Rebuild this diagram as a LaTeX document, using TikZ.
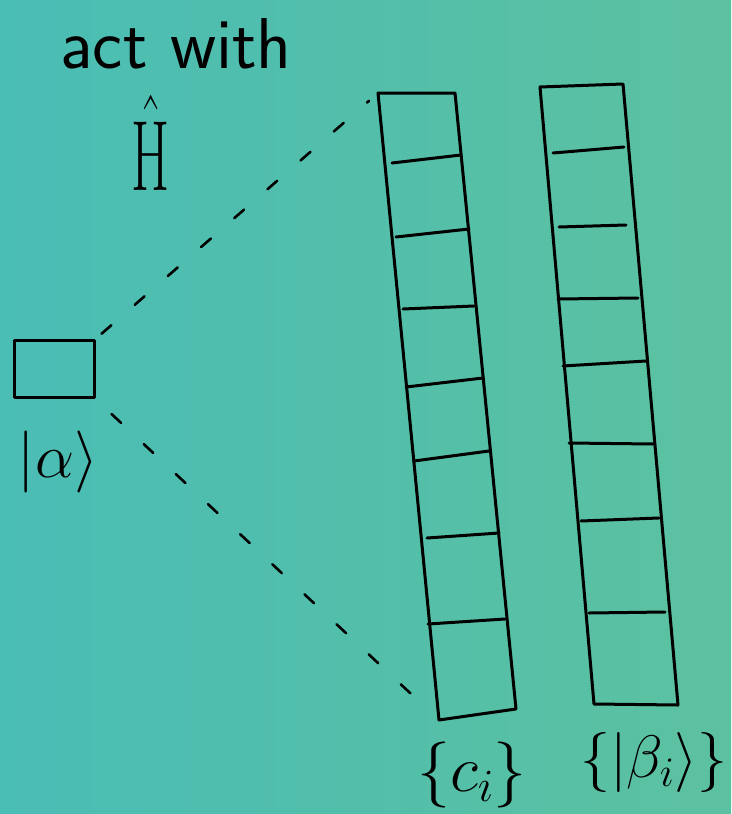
\documentclass[tikz,border=0pt]{standalone}
\usepackage{fix-cm}
\usepackage{fontspec}
\definecolor{tealL}{RGB}{74,189,181}
\definecolor{tealR}{RGB}{92,193,160}
\begin{document}
\begin{tikzpicture}[x=1pt,y=-1pt,line width=3pt,line cap=round,line join=round,
  hand/.style={font=\sffamily\fontsize{#1}{#1}\selectfont,inner sep=0pt},
  gap/.style={dash pattern=on 13pt off 31pt,line width=2.6pt}]
\shade[left color=tealL,right color=tealR] (0,0) rectangle (731,814);
\useasboundingbox (0,0) rectangle (731,814);
\node[draw,minimum width=80pt,minimum height=57pt,inner sep=0pt] (ket) at (54,369) {};
\node[hand=62] (ketlab) at (58,462) {$|\alpha\rangle$};
\node[hand=72,anchor=base] (act) at (176,68) {act with};
\node[hand=100,anchor=base,xscale=0.55] (ham) at (151,190) {$\hat{\mathrm{H}}$};
\coordinate (c1a) at (378,93); \coordinate (c1b) at (455,93);
\coordinate (c1c) at (516,709); \coordinate (c1d) at (439,720);
\coordinate (c2a) at (540,87); \coordinate (c2b) at (623,84);
\coordinate (c2c) at (678,705); \coordinate (c2d) at (594,704);
\draw (c1a) -- (c1b) -- (c1c) -- (c1d) -- cycle;
\draw (c2a) -- (c2b) -- (c2c) -- (c2d) -- cycle;
\foreach \xa/\ya/\xb/\yb in {392/163/461/155, 396/237/469/229, 403/309/474/306,
  406/387/483/378, 414/461/489/451, 427/538/499/533, 428/624/505/619}
  \draw (\xa,\ya) -- (\xb,\yb);
\foreach \xa/\ya/\xb/\yb in {553/153/624/147, 559/227/626/225, 558/299/638/298,
  563/366/646/361, 569/443/653/444, 581/521/659/518, 589/613/665/612}
  \draw (\xa,\ya) -- (\xb,\yb);
\draw[gap,shorten <=8pt,shorten >=12pt] (ket.north east) -- (c1a);
\draw[gap,shorten <=22pt,shorten >=14pt] (ket.south east) -- (c1d);
\node[hand=66] (coef) at (472,775) {$\{c_i\}$};
\node[hand=60] (basis) at (654,762) {$\{|\beta_i\rangle\}$};
\end{tikzpicture}
\end{document}
